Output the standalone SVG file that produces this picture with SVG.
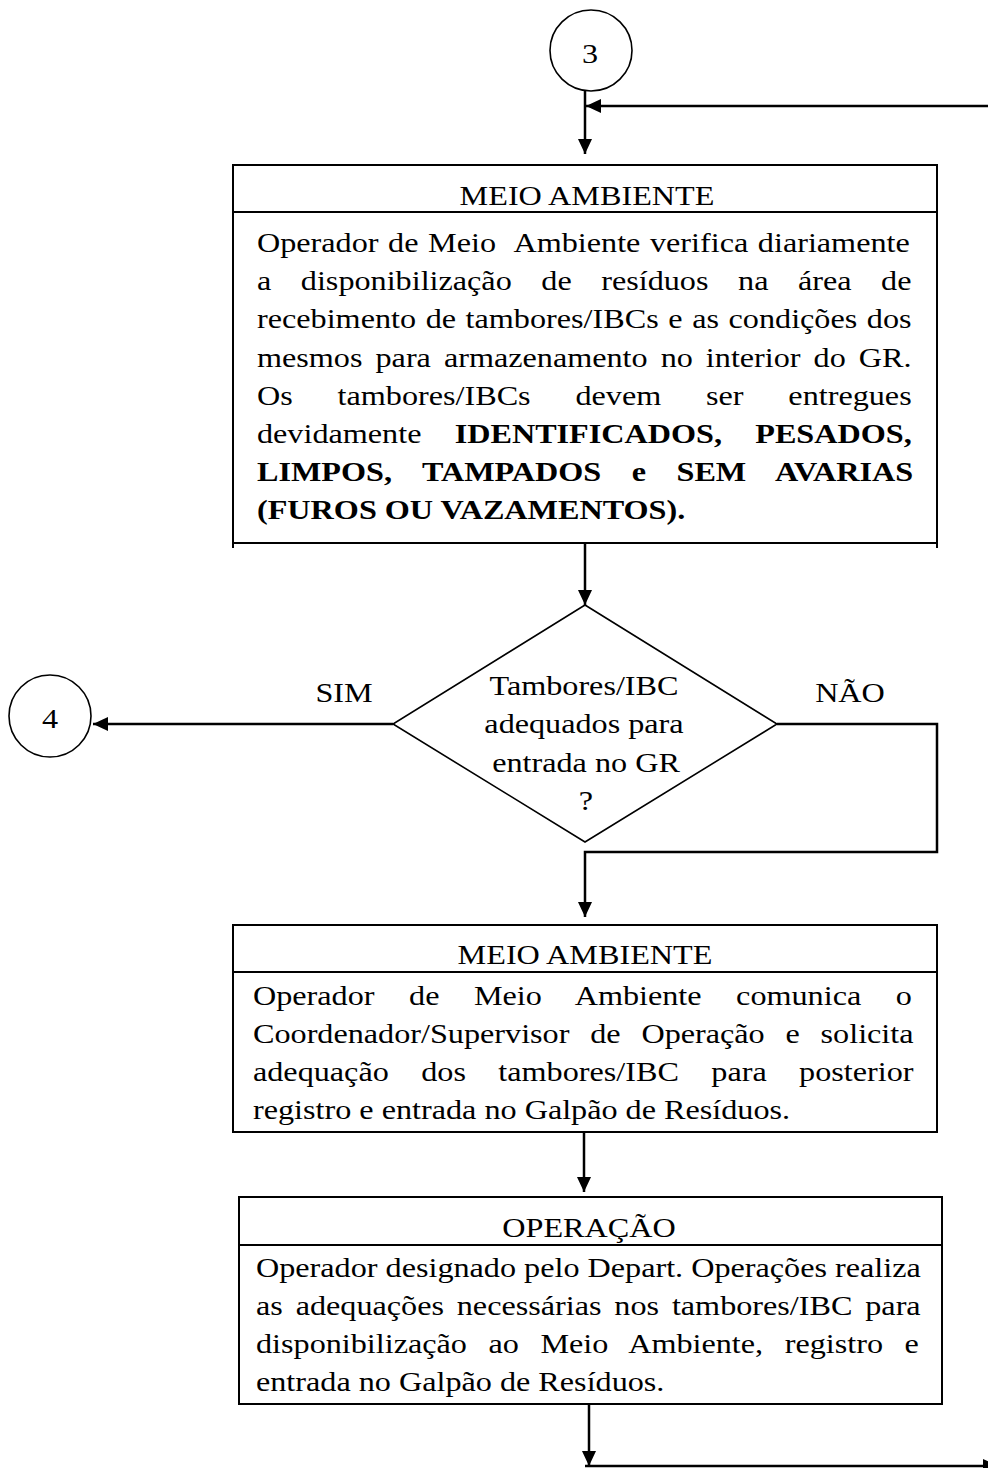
<svg xmlns="http://www.w3.org/2000/svg" width="988" height="1468" viewBox="0 0 988 1468">
<defs>
<style>
.t{font-family:"Liberation Serif","Times New Roman",serif;font-size:28px;fill:#000}
.b{font-weight:bold}
.c{text-anchor:middle}
.box{fill:#fff;stroke:#000;stroke-width:2}
.sh{fill:#fff;stroke:#000;stroke-width:1.6}
.ln{fill:none;stroke:#000;stroke-width:2}
.cn{fill:none;stroke:#000;stroke-width:2.5}
</style>
<marker id="ah" markerUnits="userSpaceOnUse" markerWidth="16" markerHeight="14" refX="15" refY="7" orient="auto"><path d="M0,0 L15,7 L0,14 z" fill="#000"/></marker>
</defs>
<rect width="988" height="1468" fill="#fff"/>

<g id="connector3">
<ellipse class="sh" cx="591" cy="50.5" rx="41" ry="40.5"/>
<text class="t c" transform="translate(590,63) scale(1.15,1)">3</text>
</g>

<g id="box1">
<rect class="box" x="233" y="165" width="704" height="378"/>
<line class="ln" x1="233" y1="212" x2="937" y2="212"/>
<line class="ln" x1="233" y1="543" x2="233" y2="548"/>
<line class="ln" x1="937" y1="543" x2="937" y2="548"/>
<text class="t c" transform="translate(587,205) scale(1.15,1)">MEIO AMBIENTE</text>
<text class="t" xml:space="preserve" style="word-spacing:1.36px" transform="translate(257,252) scale(1.15,1)">Operador de Meio  Ambiente verifica diariamente</text>
<text class="t" style="word-spacing:18.7px" transform="translate(257,290.2) scale(1.15,1)">a disponibilização de resíduos na área de</text>
<text class="t" style="word-spacing:1.35px" transform="translate(257,328.4) scale(1.15,1)">recebimento de tambores/IBCs e as condições dos</text>
<text class="t" style="word-spacing:4.33px" transform="translate(257,366.6) scale(1.15,1)">mesmos para armazenamento no interior do GR.</text>
<text class="t" style="word-spacing:31.96px" transform="translate(257,404.8) scale(1.15,1)">Os tambores/IBCs devem ser entregues</text>
<text class="t" style="word-spacing:21.9px" transform="translate(257,443) scale(1.15,1)">devidamente <tspan class="b">IDENTIFICADOS, PESADOS,</tspan></text>
<text class="t b" style="word-spacing:19.5px" transform="translate(257,481.2) scale(1.15,1)">LIMPOS, TAMPADOS e SEM AVARIAS</text>
<text class="t b" transform="translate(257,519.4) scale(1.15,1)">(FUROS OU VAZAMENTOS).</text>
</g>

<g id="decision">
<polygon class="sh" points="585,605 777,724 585,842 393,724"/>
<text class="t c" transform="translate(584,695) scale(1.15,1)">Tambores/IBC</text>
<text class="t c" transform="translate(584,733) scale(1.15,1)">adequados para</text>
<text class="t c" transform="translate(586,772) scale(1.15,1)">entrada no GR</text>
<text class="t c" transform="translate(586,810) scale(1.15,1)">?</text>
</g>

<g id="connector4">
<ellipse class="sh" cx="50" cy="716" rx="41" ry="41"/>
<text class="t c" transform="translate(50,728) scale(1.15,1)">4</text>
</g>

<g id="box2">
<rect class="box" x="233" y="925" width="704" height="207"/>
<line class="ln" x1="233" y1="972" x2="937" y2="972"/>
<text class="t c" transform="translate(585,964) scale(1.15,1)">MEIO AMBIENTE</text>
<text class="t" style="word-spacing:23.04px" transform="translate(253,1005) scale(1.15,1)">Operador de Meio Ambiente comunica o</text>
<text class="t" style="word-spacing:11.1px" transform="translate(253,1043) scale(1.15,1)">Coordenador/Supervisor de Operação e solicita</text>
<text class="t" style="word-spacing:21.2px" transform="translate(253,1081) scale(1.15,1)">adequação dos tambores/IBC para posterior</text>
<text class="t" transform="translate(253,1119) scale(1.15,1)">registro e entrada no Galpão de Resíduos.</text>
</g>

<g id="box3">
<rect class="box" x="239" y="1197" width="703" height="207"/>
<line class="ln" x1="239" y1="1245" x2="942" y2="1245"/>
<text class="t c" transform="translate(589,1237) scale(1.15,1)">OPERAÇÃO</text>
<text class="t" transform="translate(256,1277) scale(1.15,1)">Operador designado pelo Depart. Operações realiza</text>
<text class="t" style="word-spacing:4.16px" transform="translate(256,1315) scale(1.15,1)">as adequações necessárias nos tambores/IBC para</text>
<text class="t" style="word-spacing:11.76px" transform="translate(256,1353) scale(1.15,1)">disponibilização ao Meio Ambiente, registro e</text>
<text class="t" transform="translate(256,1391) scale(1.15,1)">entrada no Galpão de Resíduos.</text>
</g>

<g id="labels">
<text class="t c" transform="translate(344,702) scale(1.15,1)">SIM</text>
<text class="t c" transform="translate(850,702) scale(1.15,1)">NÃO</text>
</g>

<g id="connectors">
<path class="cn" d="M585,91 V154" marker-end="url(#ah)"/>
<path class="cn" d="M988,106 H586" marker-end="url(#ah)"/>
<path class="cn" d="M585,543 V605" marker-end="url(#ah)"/>
<path class="cn" d="M393,724 H93" marker-end="url(#ah)"/>
<path class="cn" d="M777,724 H937 V852 H585 V917" marker-end="url(#ah)"/>
<path class="cn" d="M584,1132 V1192" marker-end="url(#ah)"/>
<path class="cn" d="M589,1404 V1466" marker-end="url(#ah)"/>
<path class="cn" d="M585,1466 H998" marker-end="url(#ah)"/>
</g>
</svg>
